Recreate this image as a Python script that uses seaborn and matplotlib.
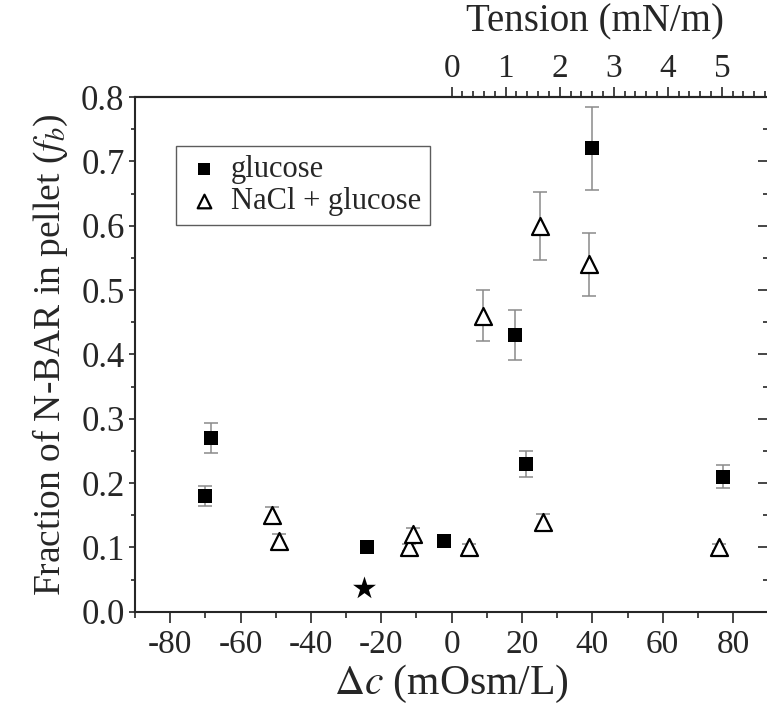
import numpy as np
import matplotlib
matplotlib.use("Agg")
import matplotlib.pyplot as plt
import seaborn as sns
from matplotlib.ticker import FixedLocator, MultipleLocator, FormatStrFormatter

# glucose series
glucose_dc = [-70.2, -68.3, -24.1, -2.1, 18.0, 21.0, 40.0, 77.1]
glucose_fb = [0.18, 0.27, 0.10, 0.11, 0.43, 0.23, 0.72, 0.21]
glucose_err = [0.015, 0.024, 0.004, 0.004, 0.039, 0.020, 0.065, 0.018]

# NaCl + glucose series
nacl_dc = [-51.2, -49.1, -12.1, -11.1, 4.9, 9.0, 25.0, 26.0, 39.1, 76.0]
nacl_fb = [0.15, 0.11, 0.10, 0.12, 0.10, 0.46, 0.60, 0.14, 0.54, 0.10]
nacl_err = [0.013, 0.010, 0.005, 0.010, 0.005, 0.040, 0.053, 0.012, 0.049, 0.005]

# star point
star_dc = [-25.0]
star_fb = [0.037]

# top axis: tension (mN/m) <-> delta c (mOsm/L)
tension_scale = 15.36
tension_ticks = [0, 1, 2, 3, 4, 5]

sns.set_style("ticks")
plt.rcParams['font.family'] = ['Liberation Serif', 'DejaVu Serif']
plt.rcParams['mathtext.fontset'] = 'stix'
plt.rcParams['axes.unicode_minus'] = False
plt.rcParams['axes.linewidth'] = 1.5

fig = plt.figure(figsize=(7.67, 7.08), dpi=100)
ax = fig.add_axes([135 / 767, 96.3 / 708, (768.3 - 135) / 767, (611.7 - 97) / 708])

# error bars
ax.errorbar(glucose_dc, glucose_fb, yerr=glucose_err, fmt='none', ecolor='#8a8a8a',
            elinewidth=1.1, capsize=5, capthick=1.1, zorder=1)
ax.errorbar(nacl_dc, nacl_fb, yerr=nacl_err, fmt='none', ecolor='#8a8a8a',
            elinewidth=1.1, capsize=5, capthick=1.1, zorder=1)

sns.scatterplot(x=glucose_dc, y=glucose_fb, marker='s', color='black', s=115,
                edgecolor='black', linewidth=0, ax=ax, zorder=3, label='glucose')
sns.scatterplot(x=nacl_dc, y=nacl_fb, marker='^', facecolor='white', edgecolor='black',
                s=150, linewidth=1.6, ax=ax, zorder=3, label='NaCl + glucose')
sns.scatterplot(x=star_dc, y=star_fb, marker='*', color='black', s=300, linewidth=0,
                ax=ax, zorder=3)

ax.set_xlim(-90, 90)
ax.set_ylim(0, 0.8)
ax.xaxis.set_major_locator(MultipleLocator(20))
ax.xaxis.set_minor_locator(MultipleLocator(10))
ax.yaxis.set_major_locator(MultipleLocator(0.1))
ax.yaxis.set_minor_locator(MultipleLocator(0.05))
ax.yaxis.set_major_formatter(FormatStrFormatter('%.1f'))
ax.tick_params(axis='x', which='major', direction='out', length=8, width=1.2,
               labelsize=24, top=False, pad=5)
ax.tick_params(axis='x', which='minor', direction='out', length=4.5, width=1.2, top=False)
ax.tick_params(axis='y', which='major', direction='out', length=4.5, width=1.2,
               labelsize=25, right=False, pad=3)
ax.tick_params(axis='y', which='minor', direction='out', length=3, width=1.2, right=False)
for sp in ax.spines.values():
    sp.set_visible(True)
    sp.set_linewidth(1.5)

ax.set_xlabel(r"$\Delta c$ (mOsm/L)", fontsize=30, labelpad=2)
ax.set_ylabel(r"Fraction of N-BAR in pellet ($f_b$)", fontsize=27, labelpad=8)

# right ticks pointing inward
ry = ax.secondary_yaxis('right')
ry.yaxis.set_major_locator(MultipleLocator(0.1))
ry.yaxis.set_minor_locator(MultipleLocator(0.05))
ry.tick_params(axis='y', which='major', direction='in', length=7, width=1.2, labelright=False)
ry.tick_params(axis='y', which='minor', direction='in', length=3.5, width=1.2)

# tension axis on top
tx = ax.secondary_xaxis('top', functions=(lambda x: x / tension_scale, lambda t: t * tension_scale))
tx.xaxis.set_major_locator(FixedLocator(tension_ticks))
tx.xaxis.set_minor_locator(FixedLocator(np.arange(0, 5.9, 0.2)))
tx.tick_params(axis='x', which='major', direction='out', length=7, width=1.2, labelsize=24, pad=2)
tx.tick_params(axis='x', which='minor', direction='out', length=4, width=1.2)
fig.text(595 / 767, 1 - 22 / 708, "Tension (mN/m)", fontsize=28, ha='center', va='center')

leg = ax.legend(loc='upper left', bbox_to_anchor=(0.065, 0.905), borderaxespad=0,
                fontsize=22, frameon=True, fancybox=False, edgecolor='#333333',
                handletextpad=0.3, handlelength=1.2, labelspacing=0.1,
                borderpad=0.3, markerscale=0.8)
leg.get_frame().set_linewidth(1.0)

fig.savefig("out.png", dpi=100)
